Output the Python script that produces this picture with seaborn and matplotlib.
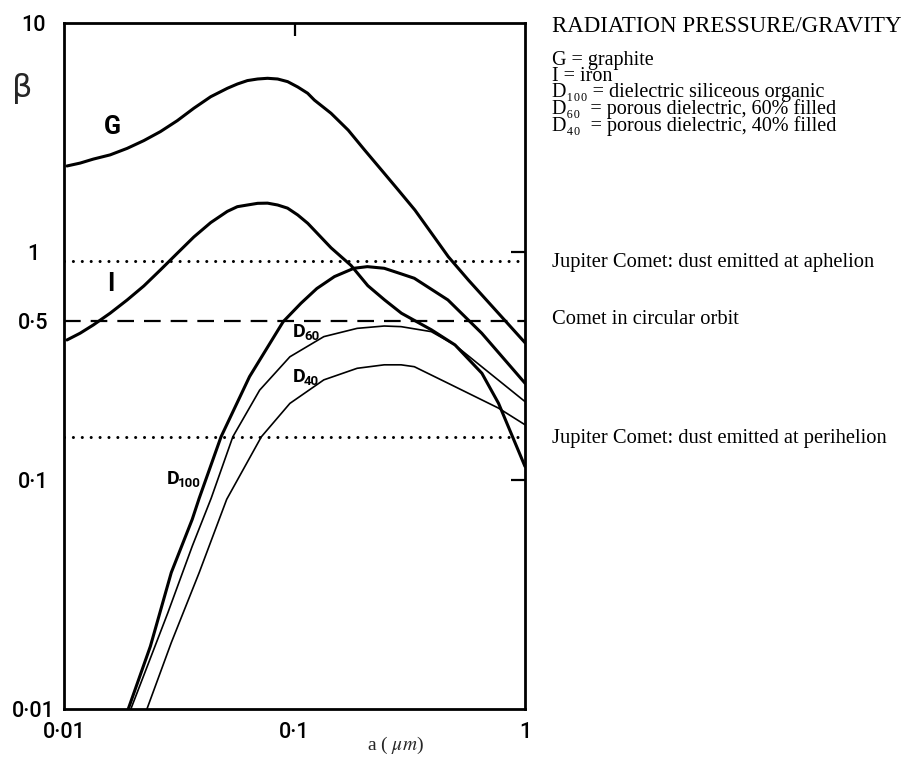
import matplotlib
matplotlib.use("Agg")
import matplotlib.pyplot as plt
from matplotlib.ticker import NullLocator
import seaborn as sns
import pandas as pd

# ---------------- data ----------------
a_G = [0.0103, 0.01175, 0.0134, 0.01585, 0.0188, 0.0222, 0.0262, 0.031, 0.0366,
       0.0433, 0.0511, 0.0565, 0.0625, 0.0692, 0.0764, 0.0845, 0.0934, 0.1033,
       0.114, 0.122, 0.144, 0.171, 0.201, 0.238, 0.282, 0.333, 0.394, 0.465,
       0.569, 1.0]
beta_G = [2.37, 2.44, 2.54, 2.65, 2.83, 3.06, 3.35, 3.74, 4.24,
          4.76, 5.18, 5.41, 5.60, 5.69, 5.73, 5.69, 5.54, 5.25,
          4.93, 4.60, 4.03, 3.40, 2.79, 2.28, 1.86, 1.52, 1.20, 0.95,
          0.75, 0.40]

a_I = [0.0103, 0.01175, 0.0134, 0.01585, 0.0188, 0.0222, 0.0262, 0.031, 0.0366,
       0.0433, 0.0511, 0.0565, 0.0625, 0.0692, 0.0764, 0.0845, 0.0933, 0.1033,
       0.1142, 0.144, 0.176, 0.208, 0.246, 0.291, 0.393, 0.497, 0.65, 0.768, 1.0]
beta_I = [0.411, 0.44, 0.478, 0.538, 0.615, 0.708, 0.832, 0.984, 1.16,
          1.34, 1.50, 1.573, 1.60, 1.627, 1.63, 1.60, 1.55, 1.447,
          1.33, 1.04, 0.87, 0.71, 0.615, 0.538, 0.455, 0.391, 0.294, 0.217, 0.115]

a_D100 = [0.019, 0.0237, 0.0292, 0.036, 0.0386, 0.048, 0.0638, 0.0893, 0.1067,
          0.125, 0.149, 0.181, 0.207, 0.245, 0.29, 0.331, 0.463, 0.649, 1.0]
beta_D100 = [0.01, 0.0188, 0.0395, 0.0675, 0.0835, 0.155, 0.284, 0.494, 0.595,
             0.690, 0.778, 0.846, 0.86, 0.846, 0.80, 0.765, 0.615, 0.44, 0.266]

a_D60 = [0.0195, 0.0282, 0.036, 0.0435, 0.054, 0.0706, 0.0955, 0.134, 0.187,
         0.245, 0.29, 0.392, 0.496, 0.649, 1.0]
beta_D60 = [0.01, 0.0263, 0.0515, 0.0835, 0.155, 0.248, 0.347, 0.425, 0.462,
            0.473, 0.47, 0.447, 0.391, 0.314, 0.221]

a_D40 = [0.0229, 0.0292, 0.0386, 0.0508, 0.0718, 0.0955, 0.134, 0.187, 0.245,
         0.29, 0.331, 0.463, 0.767, 1.0]
beta_D40 = [0.01, 0.0195, 0.0395, 0.0826, 0.155, 0.217, 0.275, 0.309, 0.32,
            0.32, 0.314, 0.266, 0.207, 0.175]

beta_aphelion = 0.91
beta_circular = 0.5
beta_perihelion = 0.155

x_ticks = [0.01, 0.1, 1]
x_tick_labels = ["0·01", "0·1", "1"]
y_ticks = [0.01, 0.1, 0.5, 1, 10]
y_tick_labels = ["0·01", "0·1", "0·5", "1", "10"]
marked_y_ticks = [0.1, 1]
marked_x_ticks = [0.1]

title_text = "RADIATION PRESSURE/GRAVITY"
key_lines = [
    "G = graphite",
    "I = iron",
    "D₁₀₀ = dielectric siliceous organic",
    "D₆₀  = porous dielectric, 60% filled",
    "D₄₀  = porous dielectric, 40% filled",
]
ref_texts = [
    "Jupiter Comet: dust emitted at aphelion",
    "Comet in circular orbit",
    "Jupiter Comet: dust emitted at perihelion",
]

# ---------------- style ----------------
sns.set_theme(style="white")
plt.rcParams["font.family"] = ["Roboto", "DejaVu Sans"]
plt.rcParams["mathtext.fontset"] = "stix"

W, H = 912, 759
fig = plt.figure(figsize=(W / 100, H / 100), dpi=100)
L, R, T, B = 64, 525, 23, 709
ax = fig.add_axes([L / W, 1 - B / H, (R - L) / W, (B - T) / H])


def fp(x, y):
    return (x / W, 1 - y / H)


df = pd.concat([
    pd.DataFrame({"a": a_G, "beta": beta_G, "series": "G"}),
    pd.DataFrame({"a": a_I, "beta": beta_I, "series": "I"}),
    pd.DataFrame({"a": a_D100, "beta": beta_D100, "series": "D100"}),
    pd.DataFrame({"a": a_D60, "beta": beta_D60, "series": "D60"}),
    pd.DataFrame({"a": a_D40, "beta": beta_D40, "series": "D40"}),
])
widths = {"G": 2.2, "I": 2.2, "D100": 2.2, "D60": 1.2, "D40": 1.2}
for name, sub in df.groupby("series", sort=False):
    sns.lineplot(data=sub, x="a", y="beta", ax=ax, color="black",
                 linewidth=widths[name], estimator=None, sort=False,
                 solid_joinstyle="round", solid_capstyle="round")

ax.set_xscale("log")
ax.set_yscale("log")
ax.set_xlim(0.01, 1)
ax.set_ylim(0.01, 10)

ax.axhline(beta_aphelion, color="black", lw=2.2, linestyle=(0, (0.01, 2.9)),
           dash_capstyle="round")
ax.axhline(beta_perihelion, color="black", lw=2.2, linestyle=(0, (0.01, 2.9)),
           dash_capstyle="round")
ax.axhline(beta_circular, color="black", lw=1.6, linestyle=(0, (7.5, 4.5)))

for s in ax.spines.values():
    s.set_visible(True)
    s.set_color("black")
    s.set_linewidth(2.0)

ax.set_xticks(x_ticks, x_tick_labels)
ax.set_yticks(y_ticks, y_tick_labels)
ax.xaxis.set_minor_locator(NullLocator())
ax.yaxis.set_minor_locator(NullLocator())
ax.tick_params(axis="both", direction="in", width=1.6, color="black",
               top=True, right=True, labelsize=15.5, labelcolor="black")
ax.tick_params(axis="y", length=10, pad=22)
ax.tick_params(axis="x", length=9, pad=9)
for t, v in zip(ax.yaxis.get_major_ticks(), y_ticks):
    if v not in marked_y_ticks:
        t.tick1line.set_visible(False)
        t.tick2line.set_visible(False)
for t, v in zip(ax.xaxis.get_major_ticks(), x_ticks):
    if v not in marked_x_ticks:
        t.tick1line.set_visible(False)
        t.tick2line.set_visible(False)
for lbl in ax.get_xticklabels() + ax.get_yticklabels():
    lbl.set_fontweight("medium")
for lbl in ax.get_yticklabels():
    lbl.set_horizontalalignment("center")
ax.set_xlabel("")
ax.set_ylabel("")

# axis labels
fig.text(*fp(22, 88), "β", fontsize=23, ha="center", va="center",
         family="DejaVu Sans")
fig.text(*fp(395, 745), r"a ( $\mu m$)", fontsize=14, ha="center", va="center",
         family="Liberation Serif")

# curve labels
lab = dict(fontweight="bold", color="black")
fig.text(*fp(112, 127), "G", fontsize=18, ha="center", va="center", **lab)
fig.text(*fp(111, 284), "I", fontsize=18, ha="center", va="center", **lab)
for name, (x, y) in {"60": (293, 337), "40": (293, 382), "100": (167, 484)}.items():
    fig.text(*fp(x, y), "D", fontsize=14, ha="left", va="baseline", **lab)
    fig.text(*fp(x + 11, y + 3), name, fontsize=9.5, ha="left", va="baseline", **lab)

# right-side text
serif_fam = ["Liberation Serif", "DejaVu Serif"]
fig.text(*fp(552, 32), title_text, fontsize=16.5, ha="left", va="baseline",
         family=serif_fam, color="black")
fig.text(*fp(552, 51), "\n".join(key_lines), fontsize=14.5, ha="left", va="top",
         linespacing=0.8, family=serif_fam, color="black")
for txt, yc in zip(ref_texts, [262, 320, 438]):
    fig.text(*fp(552, yc), txt, fontsize=14.8, ha="left", va="center",
             family=serif_fam, color="black")

fig.savefig("out.png", dpi=100, facecolor="white")
